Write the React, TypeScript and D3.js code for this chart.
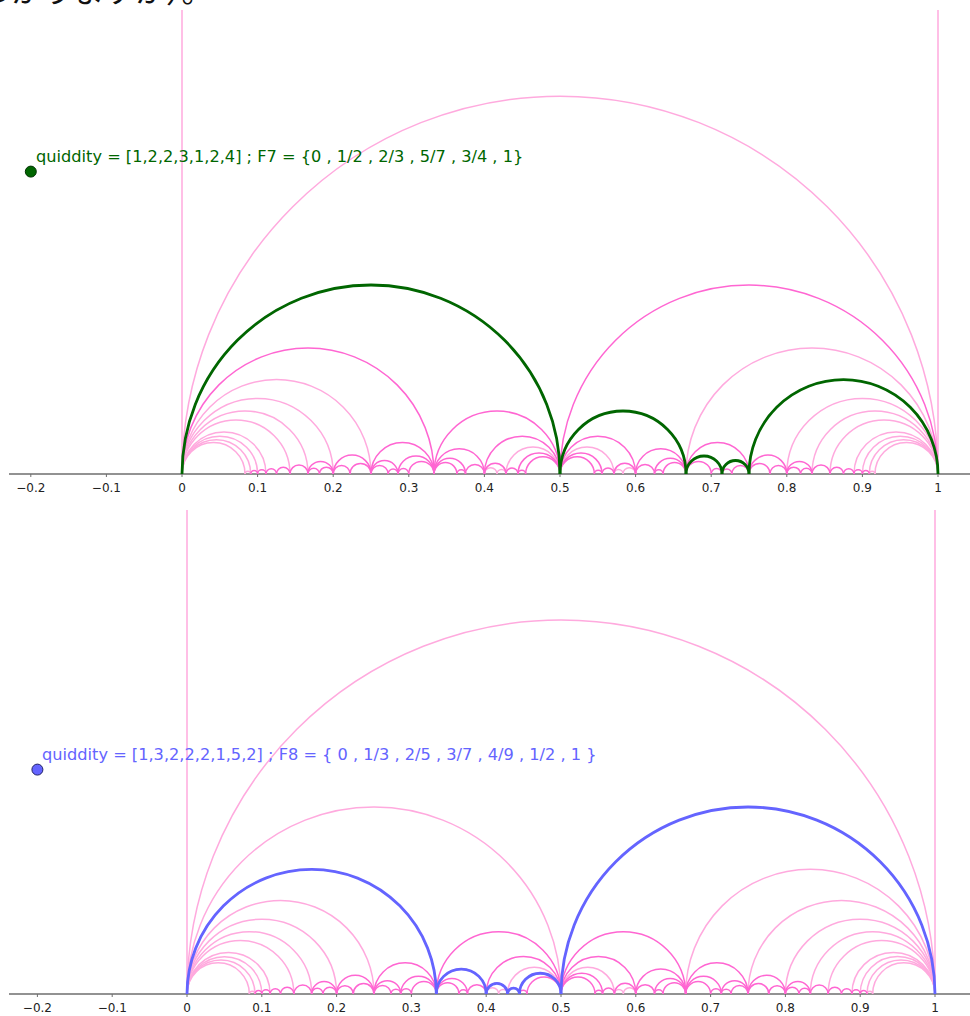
import React from "react";
import * as d3 from "d3";

// Farey sequence F12 (vertices of the tessellation), as [numerator, denominator]
const FAREY_12: [number, number][] = [
  [0, 1], [1, 12], [1, 11], [1, 10], [1, 9], [1, 8], [1, 7], [1, 6], [2, 11], [1, 5], [2, 9], [1, 4],
  [3, 11], [2, 7], [3, 10], [1, 3], [4, 11], [3, 8], [2, 5], [5, 12], [3, 7], [4, 9], [5, 11], [1, 2],
  [6, 11], [5, 9], [4, 7], [7, 12], [3, 5], [5, 8], [7, 11], [2, 3], [7, 10], [5, 7], [8, 11], [3, 4],
  [7, 9], [4, 5], [9, 11], [5, 6], [6, 7], [7, 8], [8, 9], [9, 10], [10, 11], [11, 12], [1, 1],
];

// Farey sequences F_n whose neighbour arcs are drawn (F8 layer is not shown)
const SHOWN_LEVELS = [1, 2, 3, 4, 5, 6, 7, 9, 10, 11, 12];

const TICK_VALUES = [-0.2, -0.1, 0, 0.1, 0.2, 0.3, 0.4, 0.5, 0.6, 0.7, 0.8, 0.9, 1];
const TICK_LABELS = ["\u22120.2", "\u22120.1", "0", "0.1", "0.2", "0.3", "0.4", "0.5", "0.6", "0.7", "0.8", "0.9", "1"];

const TOP_PATH: [number, number][] = [[0, 1], [1, 2], [2, 3], [5, 7], [3, 4], [1, 1]];
const BOTTOM_PATH: [number, number][] = [[0, 1], [1, 3], [2, 5], [3, 7], [4, 9], [1, 2], [1, 1]];

const TOP_EXTRA_DARK: [number, number][][] = [[[0, 1], [1, 3]], [[1, 2], [1, 1]]];
const BOTTOM_EXTRA_DARK: [number, number][][] = [];

const TOP_POINT = [-0.2, 0.4];
const BOTTOM_POINT = [-0.2, 0.3];

const TOP_LABEL = "quiddity = [1,2,2,3,1,2,4] ; F7 = {0 , 1/2 , 2/3 , 5/7 , 3/4 , 1}";
const BOTTOM_LABEL = "quiddity = [1,3,2,2,2,1,5,2] ; F8 = { 0 , 1/3 , 2/5 , 3/7 , 4/9 , 1/2 , 1 }";
const HEADER_TEXT = "わかりますか）。";

const LIGHT = "#ffaade";
const DARK = "#ff66d2";

type Edge = { a: [number, number]; b: [number, number]; count: number };

function buildEdges(): Edge[] {
  const edges: Edge[] = [];
  for (let i = 0; i < FAREY_12.length; i++) {
    for (let j = i + 1; j < FAREY_12.length; j++) {
      const [p, q] = FAREY_12[i];
      const [r, s] = FAREY_12[j];
      if (Math.abs(p * s - q * r) === 1) {
        const lo = Math.max(q, s);
        const hi = q + s - 1;
        const count = SHOWN_LEVELS.filter((n) => n >= lo && n <= hi).length;
        edges.push({ a: FAREY_12[i], b: FAREY_12[j], count });
      }
    }
  }
  return edges;
}

const EDGES = buildEdges();

const same = (u: [number, number], v: [number, number]) => u[0] === v[0] && u[1] === v[1];

function Panel(props: {
  x0: number; x1: number; base: number; top: number;
  path: [number, number][]; extraDark: [number, number][][];
  color: string; pointStroke: string; point: number[]; label: string;
  labelX: number; labelY: number;
}) {
  const { x0, x1, base, top, path, extraDark, color, pointStroke, point, label, labelX, labelY } = props;
  const unit = x1 - x0;
  const x = d3.scaleLinear().domain([0, 1]).range([x0, x1]);
  const y = d3.scaleLinear().domain([0, 1]).range([base, base - unit]);
  const arc = (u: number, v: number) => {
    const xa = x(u), xb = x(v);
    const r = (xb - xa) / 2;
    return `M${xa},${y(0)} A${r},${r} 0 0 1 ${xb},${y(0)}`;
  };
  const isExtra = (e: Edge) => extraDark.some(([u, v]) => (same(u, e.a) && same(v, e.b)) || (same(u, e.b) && same(v, e.a)));
  const light = EDGES.filter((e) => e.count === 1 && !isExtra(e));
  const dark = EDGES.filter((e) => e.count >= 2 || isExtra(e));
  const topVal = y.invert(top);
  return (
    <g>
      <line x1={9} x2={970} y1={y(0)} y2={y(0)} stroke="#6e6e6e" strokeWidth={1.3} />
      {TICK_VALUES.map((t, i) => (
        <g key={i}>
          <line x1={x(t)} x2={x(t)} y1={y(0)} y2={y(0) + 3} stroke="#6e6e6e" strokeWidth={1} />
          <text x={x(t)} y={y(0) + 18} textAnchor="middle" fontFamily="DejaVu Sans, sans-serif" fontSize={12} fill="#222">
            {TICK_LABELS[i]}
          </text>
        </g>
      ))}
      <line x1={x(0)} x2={x(0)} y1={y(0)} y2={y(topVal)} stroke={LIGHT} strokeWidth={1.5} />
      <line x1={x(1)} x2={x(1)} y1={y(0)} y2={y(topVal)} stroke={LIGHT} strokeWidth={1.5} />
      {light.map((e, i) => (
        <path key={"l" + i} d={arc(e.a[0] / e.a[1], e.b[0] / e.b[1])} fill="none" stroke={LIGHT} strokeWidth={1.5} />
      ))}
      {dark.map((e, i) => (
        <path key={"d" + i} d={arc(e.a[0] / e.a[1], e.b[0] / e.b[1])} fill="none" stroke={DARK} strokeWidth={1.5} />
      ))}
      {path.slice(1).map((v, i) => (
        <path key={"h" + i} d={arc(path[i][0] / path[i][1], v[0] / v[1])} fill="none" stroke={color} strokeWidth={2.8} />
      ))}
      <circle cx={x(point[0])} cy={y(point[1])} r={5.5} fill={color} stroke={pointStroke} strokeWidth={1} />
      <text x={labelX} y={labelY} fontFamily="DejaVu Sans, sans-serif" fontSize={16.2} fill={color}>
        {label}
      </text>
    </g>
  );
}

export default function App() {
  return (
    <svg width={970} height={1016} style={{ position: "absolute", left: 0, top: 0, background: "#fff" }}>
      <rect x={0} y={0} width={970} height={1016} fill="#fff" />
      <text x={-20} y={2} fontFamily="Noto Sans CJK JP" fontSize={31} fill="#111">{HEADER_TEXT}</text>
      <Panel x0={182} x1={938} base={474} top={10} path={TOP_PATH} extraDark={TOP_EXTRA_DARK}
        color="#006600" pointStroke="#003300" point={TOP_POINT} label={TOP_LABEL} labelX={36} labelY={162} />
      <Panel x0={187} x1={935} base={994} top={510} path={BOTTOM_PATH} extraDark={BOTTOM_EXTRA_DARK}
        color="#6464ff" pointStroke="#222266" point={BOTTOM_POINT} label={BOTTOM_LABEL} labelX={42} labelY={760} />
    </svg>
  );
}
